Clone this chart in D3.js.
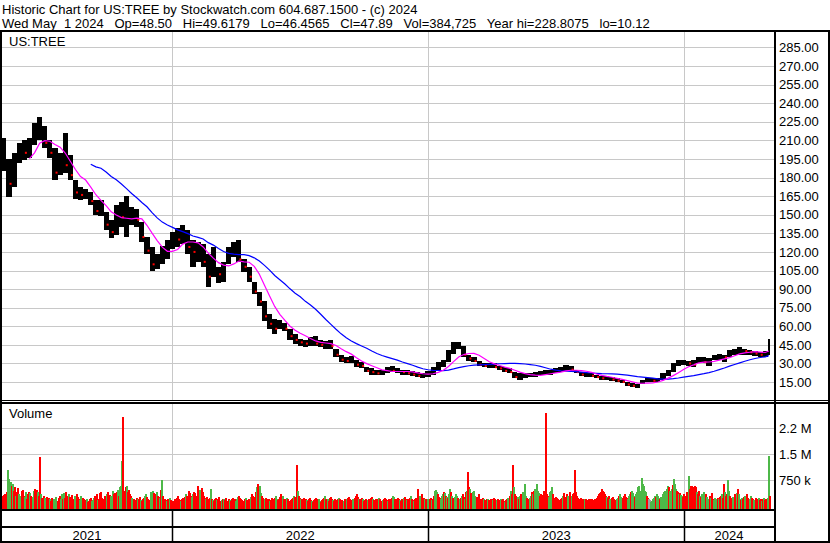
<!DOCTYPE html>
<html>
<head>
<meta charset="utf-8">
<script src="https://cdn.jsdelivr.net/npm/d3@7"></script>
<style>
  body { margin: 0; background: #fff; }
  svg text { font-family: "Liberation Sans", Arial, sans-serif; font-size: 13px; fill: #000; }
</style>
</head>
<body>
<svg id="chart" width="830" height="543"></svg>
<script>
const titleLine = "Historic Chart for US:TREE by Stockwatch.com 604.687.1500 - (c) 2024";
const quoteLine = "Wed May  1 2024   Op=48.50   Hi=49.6179   Lo=46.4565   Cl=47.89   Vol=384,725   Year hi=228.8075   lo=10.12";
const symbol = "US:TREE";

// trading days shown per calendar year
const yearLabels = ["2021", "2022", "2023", "2024"];
const yearDays = [167, 251, 250, 84];

// weekly high / low / close (5 trading days per bar)
const weekHi = [
  212,195,200,208,210,212,224,229,222,210,
  204,200,216,198,178,172,171,168,162,162,
  152,146,158,160,165,156,155,144,132,124,
  118,125,130,136,139,142,138,130,128,126,
  118,124,108,112,124,128,130,114,108,96,
  88,80,70,66,65,63,58,54,50,49,
  51,52,49,48,49,42,37,35,36,33,
  31,27,26,25,25,27,28,26,25,25,
  24,23,22,24,27,31,33,41,47,47,
  44,37,35,32,30,30,30,28,27,26,
  23,22,22,22,23,24,25,25,26,27,
  29,28,25,23,22,22,21,20,20,19,
  18,17,15,14,13,17,18,18,18,22,
  25,30,33,33,32,33,35,35,34,37,
  38,37,41,42,43,42,41,40,39,40,
  49.62
];
const weekLo = [
  185,164,172,192,194,196,206,210,204,196,
  178,182,184,178,163,162,163,158,150,149,
  138,131,134,140,132,142,140,128,118,105,
  106,110,114,122,124,126,118,108,112,108,
  92,100,95,96,110,116,112,104,96,86,
  76,64,58,54,58,56,49,46,44,43,
  44,44,43,42,42,35,31,30,30,27,
  26,23,21,21,21,22,23,22,21,21,
  20,19,18,19,21,25,27,31,38,42,
  35,32,31,28,27,26,26,25,23,22,
  18,17,18,19,19,21,21,21,22,23,
  24,24,22,20,19,19,18,17,17,16,
  15,14,12,11,10.12,13,15,15,15,17,
  20,23,28,29,28,27,30,30,28,33,
  33,31,35,37,37,37,37,36,35,35,
  37
];
const weekClose = [
  190,175,196,203,200,208,218,222,208,200,
  184,195,190,182,168,166,167,161,153,155,
  142,136,152,148,150,152,146,132,121,110,
  114,120,126,132,130,136,124,120,122,112,
  100,112,102,108,118,122,114,108,100,88,
  80,68,62,58,62,58,52,49,47,46,
  49,46,45,46,44,37,33,32,33,29,
  28,24,23,22,23,25,24,24,23,22,
  21,20,20,22,25,29,31,38,44,44,
  37,34,32,29,28,28,27,26,24,23,
  19,19,20,21,21,22,23,23,24,25,
  27,25,23,21,21,20,19,18,18,17,
  16,15,13,12,12,16,17,16,17,20,
  23,28,31,32,30,29,33,31,32,35,
  36,35,39,40,41,40,39,38,37,38,
  47.89
];

// daily volume in units of 10k shares
const vol2021 = [
  30,28,32,35,26,40,105,80,70,60,
  65,45,55,30,40,52,35,30,25,45,
  48,30,28,40,22,35,42,38,30,25,
  28,45,50,35,48,40,30,143,35,25,
  20,30,25,22,28,18,25,20,15,25,
  18,22,20,28,15,25,30,22,35,20,
  38,25,42,30,20,35,28,25,32,18,
  22,30,25,35,28,20,18,30,22,25,
  20,15,18,22,12,16,20,25,14,18,
  25,30,22,35,18,20,38,40,25,22,
  30,28,35,40,25,32,30,28,45,36,
  38,30,42,48,30,55,60,130,258,40,
  45,55,60,40,48,35,30,25,22,20,
  18,15,25,20,22,28,18,15,20,25,
  30,35,28,22,18,40,32,45,38,25,
  35,40,30,28,25,48,76,30,22,20,
  18,15,22,20,25,18,15
];
const vol2022 = [
  12,15,20,18,25,30,22,18,15,20,
  25,22,28,35,30,25,45,38,30,28,
  35,40,38,30,60,28,48,35,52,40,
  30,25,22,28,20,18,25,50,22,18,
  15,20,25,18,22,28,15,12,18,20,
  22,18,25,15,12,20,18,15,22,25,
  18,20,15,22,28,30,25,20,18,15,
  20,25,18,15,22,20,28,35,30,25,
  28,40,55,65,45,60,38,30,25,22,
  20,25,18,22,20,15,18,25,20,22,
  25,30,22,18,20,28,35,25,30,22,
  20,18,25,22,15,18,20,25,30,28,
  28,120,45,30,25,20,22,18,25,20,
  22,18,15,20,25,18,15,12,18,20,
  25,20,18,22,15,12,18,20,25,30,
  22,18,20,15,25,28,20,18,15,22,
  18,20,25,22,15,18,12,15,20,18,
  22,25,28,20,18,15,22,20,25,30,
  35,28,22,20,18,25,22,15,18,20,
  15,18,22,20,25,28,22,18,15,20,
  18,22,25,20,15,18,20,25,22,18,
  15,20,18,22,25,30,28,22,18,20,
  25,22,18,15,20,22,25,28,20,18,
  22,20,25,30,22,18,15,20,25,22,
  50,25,30,28,35,22,25,22,20,18,22
];
const vol2023 = [
  20,25,18,22,30,45,48,40,35,28,
  25,20,30,35,42,38,30,28,25,35,
  50,40,30,25,22,28,35,30,25,22,
  20,25,30,35,28,22,40,45,100,55,
  50,38,30,42,45,30,28,25,35,22,
  18,22,25,20,18,15,22,20,18,15,
  20,22,18,25,20,15,18,22,15,18,
  20,18,22,15,12,18,20,25,22,30,
  45,35,119,55,35,30,25,28,22,30,
  35,40,38,63,30,25,22,18,25,30,
  40,35,45,50,42,65,45,38,30,35,
  28,32,45,40,270,35,30,28,40,45,
  55,35,25,20,28,25,22,18,15,22,
  25,30,38,28,22,35,30,40,25,30,
  35,38,105,40,30,25,22,20,25,22,
  20,18,22,20,18,15,20,18,22,20,
  18,15,20,22,25,30,35,38,42,50,
  45,40,35,30,28,25,30,22,20,25,
  28,22,18,20,25,30,35,28,22,25,
  30,35,28,25,22,30,35,40,45,38,
  30,28,35,40,55,60,45,40,82,65,
  58,45,40,30,25,22,18,12,15,20,
  25,30,28,35,30,25,22,28,35,40,
  45,38,50,60,55,45,40,50,62,80,
  65,50,45,40,35,38,32,30,28,35
];
const vol2024 = [
  30,25,40,35,87,50,58,60,55,48,
  60,55,40,35,45,30,28,35,25,40,
  30,35,28,22,30,25,38,20,18,25,
  22,18,25,20,28,30,35,25,64,40,
  30,35,76,45,30,25,20,28,22,35,
  30,38,50,35,22,18,25,20,28,30,
  22,35,25,18,20,30,25,22,18,25,
  20,22,25,18,20,15,22,25,18,20,
  22,25,145,30
];
// r = down day, g = up day, n = unchanged
const dir2021 = ["rrrrrrgggr","grrgrrgggr","rrggrrrgrr","ggrrrgrrgr","rrggrrrgrr","rgggrrrggr",
  "grrrrgrrrr","rggrrrgggr","rrrgrrrrgg","grrrgrrrrr","rrgrrrgggr","rrrgrgggrr","rrgrrrrggr",
  "rrrgrrgrrr","ggrrrgggrr","rgrrgrgrrr","rgrrgrr"].join("");
const dir2022 = ["rrrrrrrrgr","rrrgrrrrrg","grrrrrggrr","rrgrrrrgrg","rrrgrrrrgr","grrrrrgrrr",
  "rrgggrrrrr","rgrrrrgrrr","rrgrrggrrr","grrrrgrrrr","rggrrrrrgr","rrgrrrrrgr","rrgrrgrrrr",
  "rgrrrrgrrr","rrrggrrrrg","rrgrrrrgrr","rrgrrrrgrr","grrrrrggrr","rrgrrrgrrr","rgrrrrgrrr",
  "rrgrrgrrrr","grrrrggrrr","rrgrrrgrrg","rrrgrrgrrr","rrggrrrgrrg"].join("");
const dir2023 = ["rrgrrgggrr","rgggrgrgrg","grgrrgggrr","grgrrgrgrr","grrgggrrrr","rrrgrrrgrr",
  "rrgrrrgrrr","grrrgrrggr","grrgrrrgrg","rggggrrrgg","rgrgggggrr","rrrrrrrggg","grrrrrrrrr",
  "rgrrrrgrrg","rrrrrrrrrr","rrgrrrrrrr","rrrrrrrrrr","rrrrgrrggr","rrrggrgggr","rrrrgggrgg",
  "grgggggggg","gggrrnnggg","ggrgggrggg","ggggrgggrg","ggrrgrggrr"].join("");
const dir2024 = ["rrrrgrrrrr","rrgrrgrggg","grggrgrrgg","ggrgrrgrrg","rrggrrrggr","rgrggrgrrg",
  "grrrggrrgr","rrgrrgrgrr","rggr"].join("");

const priceTicks = [15, 30, 45, 60, 75, 90, 105, 120, 135, 150, 165, 180, 195, 210, 225, 240, 255, 270, 285];
const volTicks = [750000, 1500000, 2250000];
const volTickLabels = ["750 k", "1.5 M", "2.2 M"];

const maShort = 6;   // weeks
const maLong = 18;   // weeks

// ---------------------------------------------------------------
const width = 830, height = 543;
const plotL = 2, plotR = 774;
const priceTop = 32, priceBottom = 400;
const volTop = 404, volBottom = 509;

const svg = d3.select("#chart");
svg.append("rect").attr("width", width).attr("height", height).attr("fill", "#fff");

const starts = [0].concat(Array.from(d3.cumsum(yearDays))); // [0,167,418,668,752]
const dayCount = starts[starts.length - 1];

const xDay = d3.scaleLinear()
  .domain([starts[1], starts[3]])
  .range([172, 684]);

const yPrice = d3.scaleLinear().domain([0, 297.5]).range([400.6, priceTop]);
const yVol = d3.scaleLinear().domain([0, 2250000]).range([506.3, 428.3]);

const defs = svg.append("defs");
defs.append("clipPath").attr("id", "clipPrice")
  .append("rect").attr("x", plotL).attr("y", priceTop)
  .attr("width", plotR - plotL).attr("height", priceBottom - priceTop);
defs.append("clipPath").attr("id", "clipVol")
  .append("rect").attr("x", plotL).attr("y", volTop)
  .attr("width", plotR - plotL).attr("height", volBottom - volTop);

// grid
svg.append("g")
  .attr("transform", "translate(" + plotL + ",0)")
  .call(d3.axisRight(yPrice).tickValues(priceTicks).tickSize(plotR - plotL).tickFormat(""))
  .call(g => g.select(".domain").remove())
  .call(g => g.selectAll("line").attr("stroke", "#c8c8c8").attr("shape-rendering", "crispEdges"));

svg.append("g")
  .attr("transform", "translate(" + plotL + ",0)")
  .call(d3.axisRight(yVol).tickValues(volTicks).tickSize(plotR - plotL).tickFormat(""))
  .call(g => g.select(".domain").remove())
  .call(g => g.selectAll("line").attr("stroke", "#c8c8c8").attr("shape-rendering", "crispEdges"));

const yearLines = starts.slice(1, yearLabels.length);
[[priceTop, priceBottom], [volTop, volBottom]].forEach(([y0, y1]) => {
  svg.append("g").selectAll("line").data(yearLines).join("line")
    .attr("x1", d => Math.floor(xDay(d)) + 0.5).attr("x2", d => Math.floor(xDay(d)) + 0.5)
    .attr("y1", y0).attr("y2", y1)
    .attr("stroke", "#c8c8c8");
});

// price bars (weekly ranges)
const weeks = weekHi.map((h, i) => ({
  i: i,
  d0: i * 5,
  d1: Math.min(i * 5 + 5, dayCount),
  hi: h,
  lo: weekLo[i],
  close: weekClose[i]
}));

const priceG = svg.append("g").attr("clip-path", "url(#clipPrice)");
priceG.selectAll("rect.bar").data(weeks).join("rect")
  .attr("class", "bar")
  .attr("x", d => xDay(d.d0))
  .attr("width", d => xDay(d.d1) - xDay(d.d0))
  .attr("y", d => yPrice(d.hi))
  .attr("height", d => Math.max(1.5, yPrice(d.lo) - yPrice(d.hi)))
  .attr("fill", "#000")
  .attr("shape-rendering", "crispEdges");

priceG.selectAll("rect.tick").data(weeks.filter((d, i) => i > 0 && d.close < weekClose[i - 1])).join("rect")
  .attr("class", "tick")
  .attr("x", d => xDay(d.d1) - 2)
  .attr("y", d => yPrice(d.close) - 1)
  .attr("width", 2).attr("height", 2)
  .attr("fill", "#ff0000");

function movingAvg(vals, n) {
  return vals.map((v, i) => i < n - 1 ? null : d3.mean(vals.slice(i - n + 1, i + 1)));
}
const maLine = d3.line()
  .defined(d => d.v != null)
  .x(d => xDay((d.w.d0 + d.w.d1) / 2))
  .y(d => yPrice(d.v));

[[maLong, "#0000ff"], [maShort, "#ff00ff"]].forEach(([n, color]) => {
  const ma = movingAvg(weekClose, n);
  priceG.append("path")
    .datum(weeks.map((w, i) => ({ w: w, v: ma[i] })))
    .attr("fill", "none")
    .attr("stroke", color)
    .attr("stroke-width", 1.2)
    .attr("d", maLine);
});

// volume bars
const volumes = vol2021.concat(vol2022, vol2023, vol2024).map(v => v * 10000);
const dirs = dir2021 + dir2022 + dir2023 + dir2024;
const volColor = { r: "#ff0000", g: "#4db848", n: "#a0a0a0" };

svg.append("g").attr("clip-path", "url(#clipVol)")
  .selectAll("rect").data(volumes).join("rect")
  .attr("x", (v, i) => xDay(i))
  .attr("width", 2)
  .attr("y", v => yVol(v))
  .attr("height", v => volBottom - yVol(v))
  .attr("fill", (v, i) => volColor[dirs[i] || "r"])
  .attr("shape-rendering", "crispEdges");

// right axes labels
svg.append("g")
  .attr("transform", "translate(775,0)")
  .call(d3.axisRight(yPrice).tickValues(priceTicks).tickSize(0).tickPadding(4).tickFormat(d3.format(".2f")))
  .call(g => g.select(".domain").remove())
  .call(g => g.selectAll("text").attr("font-family", null).attr("font-size", null));

svg.append("g")
  .attr("transform", "translate(775,0)")
  .call(d3.axisRight(yVol).tickValues(volTicks).tickSize(0).tickPadding(4)
    .tickFormat((d, i) => volTickLabels[i]))
  .call(g => g.select(".domain").remove())
  .call(g => g.selectAll("text").attr("font-family", null).attr("font-size", null));

// frame
const frame = [
  [0, 30.5, width, 30.5, 2],
  [1, 30, 1, height, 2],
  [775, 30, 775, height, 2],
  [829, 30, 829, height, 2],
  [0, 400.5, width, 400.5, 1],
  [0, 403, width, 403, 2],
  [0, 510, 775, 510, 2],
  [0, 527, 775, 527, 2],
  [0, 542, width, 542, 2]
];
svg.append("g").selectAll("line").data(frame).join("line")
  .attr("x1", d => d[0]).attr("y1", d => d[1])
  .attr("x2", d => d[2]).attr("y2", d => d[3])
  .attr("stroke", "#000").attr("stroke-width", d => d[4])
  .attr("shape-rendering", "crispEdges");

svg.append("g").selectAll("line").data(yearLines).join("line")
  .attr("x1", d => Math.floor(xDay(d)) + 0.5).attr("x2", d => Math.floor(xDay(d)) + 0.5)
  .attr("y1", 510).attr("y2", 542)
  .attr("stroke", "#000").attr("stroke-width", 1.5);

// year labels centred in their spans
const yearSpans = yearLabels.map((t, i) => ({
  t: t,
  x0: i === 0 ? plotL : xDay(starts[i]),
  x1: i === yearLabels.length - 1 ? plotR : xDay(starts[i + 1])
}));
svg.append("g").selectAll("text").data(yearSpans).join("text")
  .attr("x", d => (d.x0 + d.x1) / 2)
  .attr("y", 539.5)
  .attr("text-anchor", "middle")
  .text(d => d.t);

// header and panel labels
svg.append("text").attr("x", 2).attr("y", 13.7).style("white-space", "pre").text(titleLine);
svg.append("text").attr("x", 2).attr("y", 27.7).style("white-space", "pre").text(quoteLine);
svg.append("text").attr("x", 9).attr("y", 46).text(symbol);
svg.append("text").attr("x", 9).attr("y", 417.5).text("Volume");
</script>
</body>
</html>
